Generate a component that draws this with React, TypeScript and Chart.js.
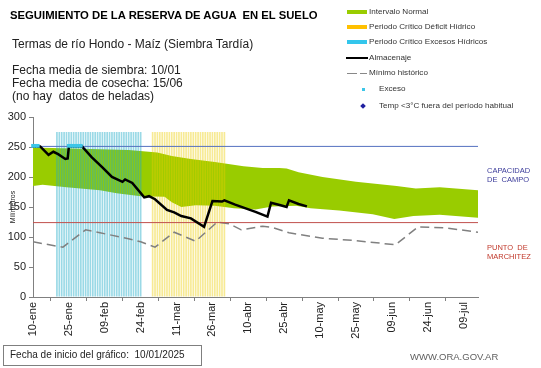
import React, { useEffect, useRef } from 'react';
import { Chart, registerables } from 'chart.js';
Chart.register(...registerables);

// ---- data (days counted from 10-ene) ----
const tickLabels = ['10-ene', '25-ene', '09-feb', '24-feb', '11-mar', '26-mar', '10-abr', '25-abr', '10-may', '25-may', '09-jun', '24-jun', '09-jul'];
const xMaxDay = 186;

const almacenajeDays = [0, 3, 6.5, 8.5, 10.5, 13.5, 14.5, 15, 20.5, 24.5, 29, 33, 37.4, 38.5, 41.5, 46.5, 48.5, 51, 56, 59, 62, 66, 71.5, 75, 79, 80, 84.5, 93, 98, 99.5, 103.5, 106, 107, 111, 114.5];
const almacenajeValues = [251, 251, 237, 242, 238, 230, 231, 251, 251, 233, 216, 200, 192, 196, 190, 166, 168, 163, 145, 141, 135, 131, 117, 160, 159, 161, 154, 142, 134, 157, 153, 150, 161, 155, 151];

const excesoDays = [0, 1, 2, 15, 16, 17, 18, 19, 20];
const excesoValues = [252, 252, 252, 252, 252, 252, 252, 252, 252];

const minimoDays = [0, 12.5, 22, 28, 39, 45, 51, 59, 68, 77, 82, 87, 96, 100, 107, 121, 135, 151.5, 161, 173, 186];
const minimoValues = [92, 83, 112, 107, 98, 92, 83, 108, 93, 125, 122, 112, 118, 116, 107, 98, 94, 87, 117, 115, 108];

const bandLowDays = [0, 4, 14, 28, 35, 45, 55, 58, 62, 68, 76, 84, 93, 100, 110, 116, 128, 142, 151, 159, 170, 186];
const bandLowValues = [185, 187, 183, 178, 173, 168, 167, 158, 150, 153, 152, 148, 146, 151, 152, 148, 144, 138, 130, 135, 137, 132];
const bandHighDays = [0, 20, 40, 46, 52, 58, 66, 76, 88, 96, 103, 106, 111, 121, 135, 152, 160, 170, 186];
const bandHighValues = [249, 247, 245, 243, 241, 235, 230, 225, 218, 215, 215, 214, 208, 200, 192, 185, 181, 183, 178];

const capacidadCampo = 251;
const puntoMarchitez = 124;
const excesosPeriod = [10, 45];
const deficitPeriod = [50, 80];
const periodBarValue = 275;

const pts = (xs: number[], ys: number[]) => xs.map((x, i) => ({ x, y: ys[i] }));
const periodBars = (p: number[]) => {
  const out: { x: number; y: number }[] = [];
  for (let d = p[0]; d <= p[1]; d++) out.push({ x: d, y: periodBarValue });
  return out;
};

const FONT = "'Liberation Sans', Arial, sans-serif";

function T({ x, y, size, bold, color, children }: any) {
  return (
    <div style={{ position: 'absolute', left: x, top: y - size * 0.59, fontSize: size, lineHeight: `${size * 1.2}px`, fontWeight: bold ? 'bold' : 'normal', color: color || '#222', whiteSpace: 'pre' }}>
      {children}
    </div>
  );
}

export default function App() {
  const ref = useRef<HTMLCanvasElement>(null);
  useEffect(() => {
    if (!ref.current) return;
    Chart.defaults.font.family = FONT;
    const axisGrid = { drawOnChartArea: false, drawTicks: true, tickLength: 4, color: '#808080' };
    const chart = new Chart(ref.current, {
      type: 'line',
      data: {
        datasets: [
          { type: 'line', data: pts(excesoDays, excesoValues), showLine: false, pointStyle: 'rect', pointRadius: 2.6, pointBackgroundColor: '#3cc6e8', pointBorderWidth: 0, order: 0, clip: false } as any,
          { type: 'line', data: pts(almacenajeDays, almacenajeValues), borderColor: '#000', borderWidth: 2.5, pointRadius: 0, tension: 0, order: 1 },
          { type: 'line', data: [{ x: 0, y: capacidadCampo }, { x: xMaxDay, y: capacidadCampo }], borderColor: '#5470c0', borderWidth: 1, pointRadius: 0, order: 3 },
          { type: 'line', data: [{ x: 0, y: puntoMarchitez }, { x: xMaxDay, y: puntoMarchitez }], borderColor: '#c0504d', borderWidth: 1, pointRadius: 0, order: 3 },
          { type: 'line', data: pts(minimoDays, minimoValues), borderColor: '#808080', borderWidth: 1.5, borderDash: [9, 5], pointRadius: 0, order: 4 },
          { type: 'bar', data: periodBars(excesosPeriod), backgroundColor: 'rgba(30,170,200,0.45)', borderWidth: 0, barPercentage: 0.7, categoryPercentage: 1, grouped: false, order: 5 } as any,
          { type: 'bar', data: periodBars(deficitPeriod), backgroundColor: 'rgba(235,205,0,0.42)', borderWidth: 0, barPercentage: 0.7, categoryPercentage: 1, grouped: false, order: 5 } as any,
          { type: 'line', data: pts(bandLowDays, bandLowValues), borderWidth: 0, borderColor: 'rgba(0,0,0,0)', pointRadius: 0, order: 9 },
          { type: 'line', data: pts(bandHighDays, bandHighValues), borderWidth: 0, borderColor: 'rgba(0,0,0,0)', pointRadius: 0, backgroundColor: '#99cc00', fill: 7, order: 8 },
        ],
      },
      options: {
        animation: false,
        responsive: false,
        layout: { padding: { left: 0, right: 63, top: 117, bottom: 0 } },
        plugins: { legend: { display: false }, tooltip: { enabled: false } },
        scales: {
          x: {
            type: 'linear', min: 0, max: xMaxDay, offset: false,
            afterFit: (s: any) => { s.height = 71; },
            ticks: {
              stepSize: 15, includeBounds: false, autoSkip: false, minRotation: 90, maxRotation: 90, padding: 1,
              color: '#222', font: { size: 11 },
              callback: (v: any) => tickLabels[Math.round(Number(v) / 15)] ?? '',
            },
            grid: axisGrid,
            border: { color: '#808080' },
          },
          y: {
            min: 0, max: 300,
            afterFit: (s: any) => { s.width = 33; },
            ticks: { stepSize: 50, padding: 3, color: '#222', font: { size: 11 } },
            grid: axisGrid,
            border: { color: '#808080' },
            title: { display: true, text: 'Milímetros', font: { size: 7 }, color: '#222', padding: { top: 9, bottom: 0 } },
          },
        },
      } as any,
    });
    return () => chart.destroy();
  }, []);

  const legendText = 369;
  const lg = 8.1;
  return (
    <div style={{ position: 'fixed', left: 0, top: 0, width: 541, height: 368, background: '#fff', fontFamily: FONT, overflow: 'hidden' }}>
      <canvas ref={ref} width={541} height={368} style={{ position: 'absolute', left: 0, top: 0 }} />
      <T x={10} y={16} size={11.3} bold color="#000">SEGUIMIENTO DE LA RESERVA DE AGUA  EN EL SUELO</T>
      <T x={12} y={44} size={12}>Termas de río Hondo - Maíz (Siembra Tardía)</T>
      <T x={12} y={70} size={12}>Fecha media de siembra: 10/01</T>
      <T x={12} y={83} size={12}>Fecha media de cosecha: 15/06</T>
      <T x={12} y={96} size={12}>(no hay  datos de heladas)</T>

      <div style={{ position: 'absolute', left: 347, top: 10, width: 20, height: 4, background: '#99cc00' }} />
      <div style={{ position: 'absolute', left: 347, top: 25, width: 20, height: 4, background: '#ffc000' }} />
      <div style={{ position: 'absolute', left: 347, top: 40, width: 20, height: 4, background: '#33c6ec' }} />
      <div style={{ position: 'absolute', left: 346, top: 57, width: 22, height: 2, background: '#000' }} />
      <div style={{ position: 'absolute', left: 347, top: 72.5, width: 10, height: 1.5, background: '#888' }} />
      <div style={{ position: 'absolute', left: 360, top: 72.5, width: 7, height: 1.5, background: '#888' }} />
      <div style={{ position: 'absolute', left: 361.5, top: 87.5, width: 3, height: 3, background: '#3cc6e8' }} />
      <div style={{ position: 'absolute', left: 361, top: 104, width: 4, height: 4, background: '#1f1fa0', transform: 'rotate(45deg)' }} />
      <T x={legendText} y={12} size={lg} color="#333">Intervalo Normal</T>
      <T x={legendText} y={27} size={lg} color="#333">Periodo Crítico Déficit Hídrico</T>
      <T x={legendText} y={42} size={lg} color="#333">Periodo Crítico Excesos Hídricos</T>
      <T x={legendText} y={58} size={lg} color="#333">Almacenaje</T>
      <T x={legendText} y={73} size={lg} color="#333">Mínimo histórico</T>
      <T x={379} y={89} size={lg} color="#333">Exceso</T>
      <T x={379} y={106} size={lg} color="#333">Temp &lt;3°C fuera del período habitual</T>

      <T x={487} y={170} size={7.5} color="#3b3b9a">CAPACIDAD</T>
      <T x={487} y={179} size={7.5} color="#3b3b9a">DE  CAMPO</T>
      <T x={487} y={247} size={7.5} color="#c0392b">PUNTO  DE</T>
      <T x={487} y={256} size={7.5} color="#c0392b">MARCHITEZ</T>

      <div style={{ position: 'absolute', left: 3, top: 345, width: 199, height: 21, border: '1px solid #7f7f7f', boxSizing: 'border-box' }} />
      <T x={10} y={355} size={10} color="#222">Fecha de inicio del gráfico:  10/01/2025</T>
      <T x={410} y={357} size={9.5} color="#606060">WWW.ORA.GOV.AR</T>
    </div>
  );
}
